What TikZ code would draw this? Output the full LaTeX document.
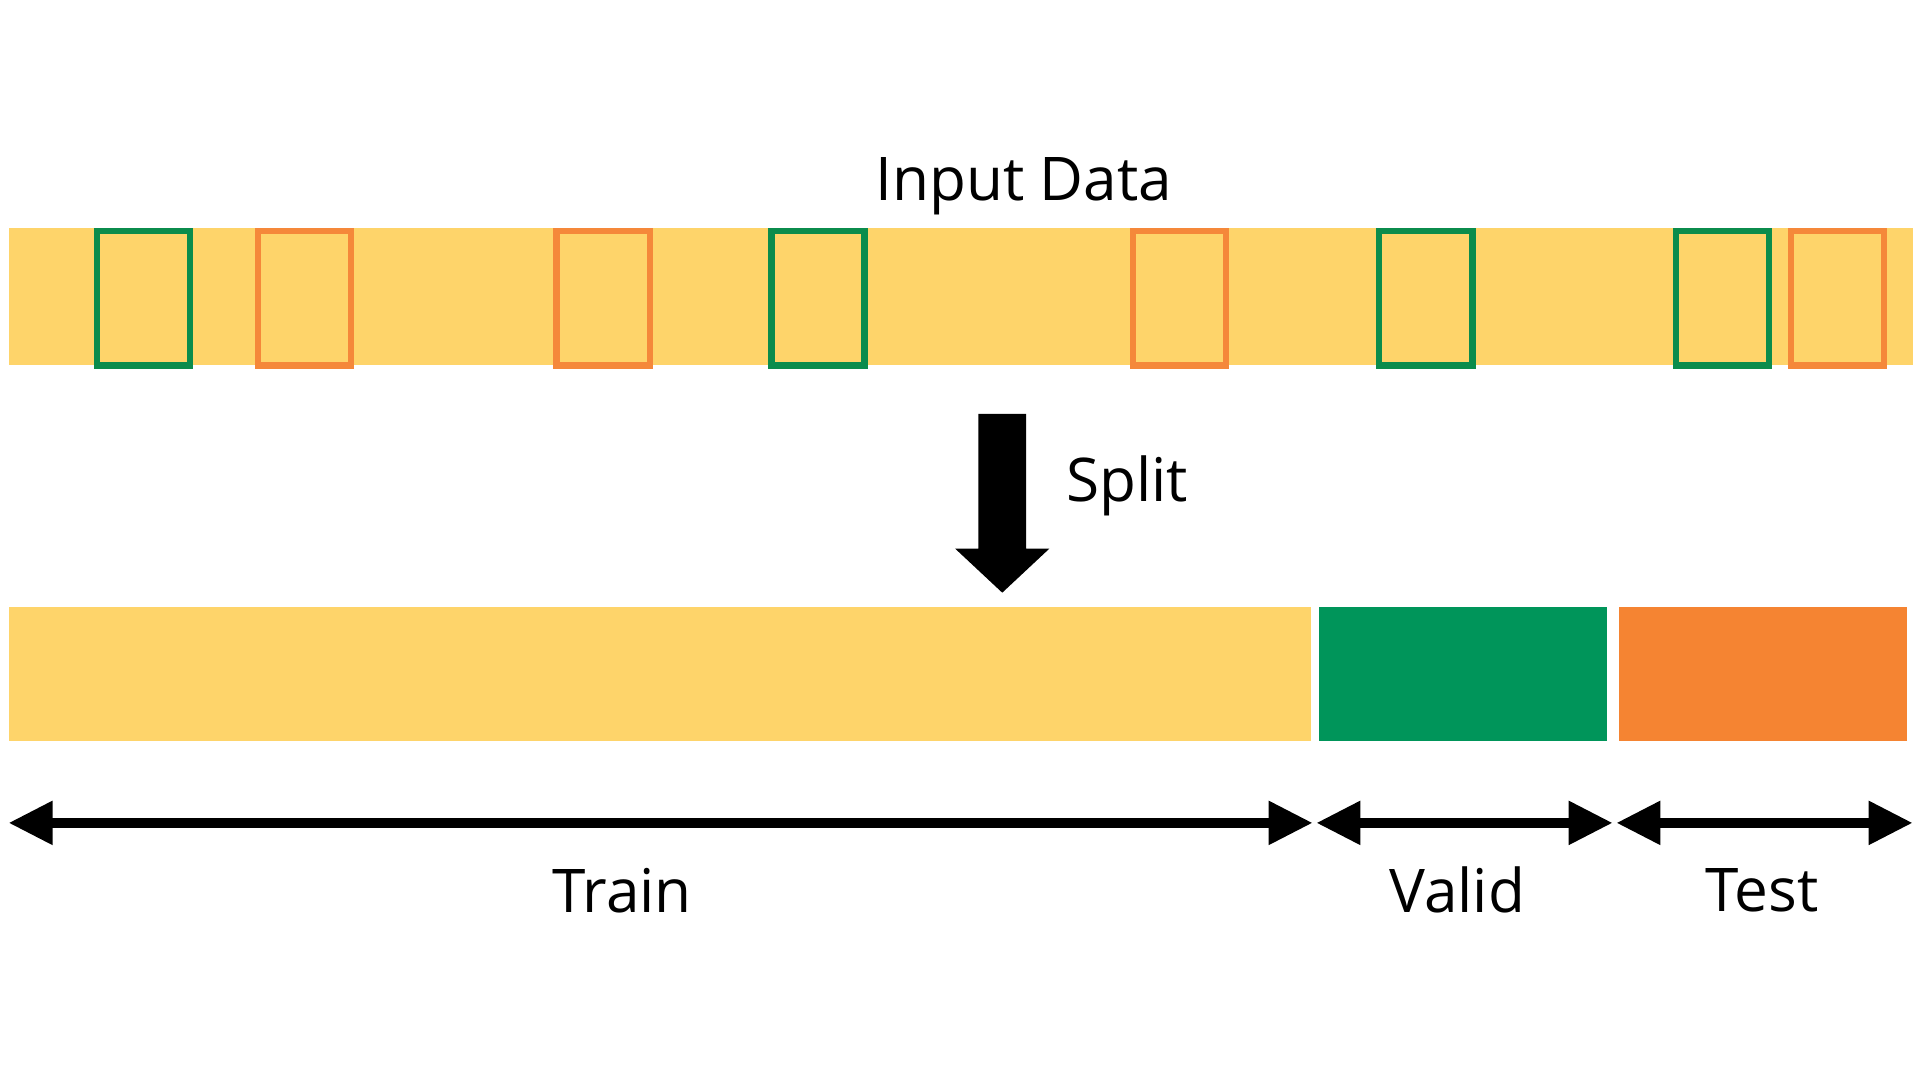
\documentclass[tikz,border=0pt]{standalone}
\usepackage{fontspec}
\setmainfont{Open Sans}
\usetikzlibrary{arrows.meta,positioning}
\definecolor{sand}{HTML}{FED46A}
\definecolor{validgreen}{HTML}{00955A}
\definecolor{testorange}{HTML}{F58432}
\definecolor{pickgreen}{HTML}{0B8C4C}
\definecolor{pickorange}{HTML}{F5883A}

\begin{document}
\begin{tikzpicture}[x=1cm,y=1cm,
   bar/.style={rectangle,inner sep=0pt,minimum height=1.09cm},
   pick/.style={rectangle,draw=#1,line width=0.05cm,fill=sand,inner sep=0pt,minimum width=0.76cm,minimum height=1.10cm},
   lbl/.style={font=\fontsize{14}{17}\selectfont,inner sep=0pt},
   span/.style={{Triangle[length=0.36cm,width=0.34cm]}-{Triangle[length=0.36cm,width=0.34cm]},line width=0.08cm}]
   \fill[white] (0,0) rectangle (15.68,-8.796);
   \useasboundingbox (0,0) rectangle (15.68,-8.796);

   \node[bar,fill=sand,minimum width=15.55cm,minimum height=1.12cm] (input) at (7.845,-2.42) {};
   \node[lbl] (input_t) at (8.36,-1.52) {Input Data};
   \node[pick=pickgreen]  (g_1) at (1.17,-2.435) {};
   \node[pick=pickorange] (o_1) at (2.485,-2.435) {};
   \node[pick=pickorange] (o_2) at (4.925,-2.435) {};
   \node[pick=pickgreen]  (g_2) at (6.68,-2.435) {};
   \node[pick=pickorange] (o_3) at (9.63,-2.435) {};
   \node[pick=pickgreen]  (g_3) at (11.645,-2.435) {};
   \node[pick=pickgreen]  (g_4) at (14.07,-2.435) {};
   \node[pick=pickorange] (o_4) at (15.005,-2.435) {};

   % split arrow
   \fill (7.99,-3.38) -- (8.38,-3.38) -- (8.38,-4.48) -- (8.57,-4.48)
      -- (8.185,-4.84) -- (7.80,-4.48) -- (7.99,-4.48) -- cycle;
   \node[lbl,anchor=west] (split) at (8.70,-3.97) {Split};

   \node[bar,fill=sand,minimum width=10.64cm] (train) at (5.39,-5.505) {};
   \node[bar,fill=validgreen,minimum width=2.35cm] (valid) at (11.945,-5.505) {};
   \node[bar,fill=testorange,minimum width=2.35cm] (test) at (14.395,-5.505) {};

   \coordinate (a_0) at (0.07,-6.72);
   \coordinate (a_1) at (10.72,-6.72);
   \coordinate (a_2) at (10.75,-6.72);
   \coordinate (a_3) at (13.17,-6.72);
   \coordinate (a_4) at (13.20,-6.72);
   \coordinate (a_5) at (15.62,-6.72);
   \draw[span] (a_0) -- (a_1);
   \draw[span] (a_2) -- (a_3);
   \draw[span] (a_4) -- (a_5);

   \node[lbl] (train_t) at (5.08,-7.27) {Train};
   \node[lbl] (valid_t) at (11.90,-7.27) {Valid};
   \node[lbl] (test_t)  at (14.39,-7.27) {Test};
\end{tikzpicture}
\end{document}
